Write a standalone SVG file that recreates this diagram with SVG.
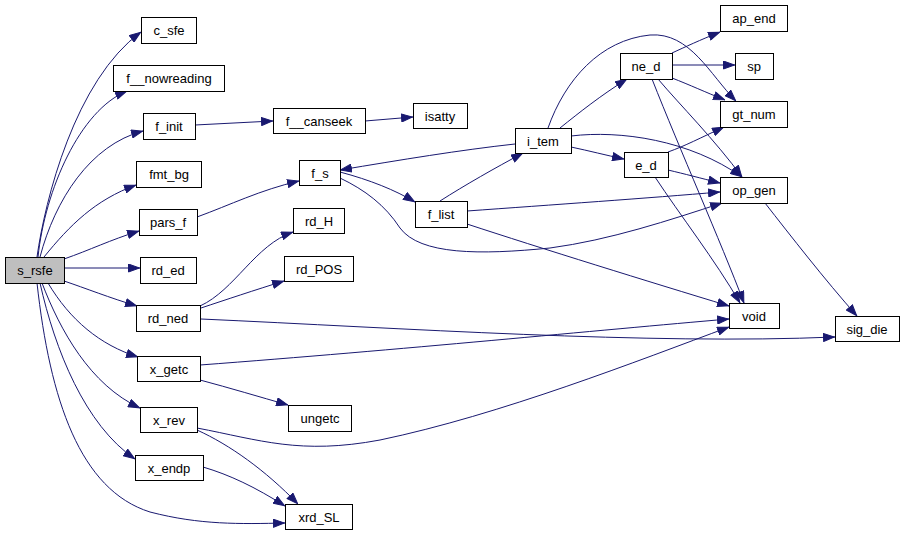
<svg xmlns="http://www.w3.org/2000/svg" width="903" height="533" viewBox="0 0 903 533">
<defs>
<marker id="a" viewBox="0 0 12 9" refX="12" refY="4.5" markerWidth="12" markerHeight="9" markerUnits="userSpaceOnUse" orient="auto">
<path d="M0.5,0.5 L11.5,4.5 L0.5,8.5 z" fill="#191970" stroke="#191970" stroke-width="1"/>
</marker>
</defs>
<style>
rect{fill:#fff;stroke:#000;stroke-width:1}
.root rect{fill:#bfbfbf}
text{font-family:"Liberation Sans",Arial,sans-serif;font-size:13px;text-anchor:middle;fill:#000}
#edges path{fill:none;stroke:#191970;stroke-width:1;marker-end:url(#a)}
</style>
<rect x="0" y="0" width="903" height="533" style="fill:#fff;stroke:none"/>
<g id="edges">
<path d="M37,257 C45,200 75,80 141,32"/>
<path d="M38,257 C45,190 80,110 127,91"/>
<path d="M40,257 C55,200 90,145 143,131"/>
<path d="M44,257 C70,225 95,200 136,185"/>
<path d="M64,259 C90,250 110,240 139,231"/>
<path d="M64,268 L140,268"/>
<path d="M64,281 C85,288 110,298 137,306"/>
<path d="M48,283 C70,320 100,345 138,357"/>
<path d="M42,283 C60,330 90,385 140,408"/>
<path d="M40,283 C55,350 85,425 135,459"/>
<path d="M37,283 C50,400 80,490 150,512 C200,525 240,524 285,523"/>
<path d="M195,125 L273,121"/>
<path d="M365,121 L413,117"/>
<path d="M197,217 C230,205 260,190 299,181"/>
<path d="M200,306 C235,290 255,245 293,232"/>
<path d="M201,308 C225,300 255,290 284,281"/>
<path d="M201,319 C400,328 650,345 835,337"/>
<path d="M200,365 C400,350 600,330 729,319"/>
<path d="M200,380 C230,388 260,397 288,405"/>
<path d="M197,428 C260,440 300,455 380,440 C500,415 640,360 729,327"/>
<path d="M197,430 C230,445 265,470 298,504"/>
<path d="M203,467 C230,475 255,487 285,506"/>
<path d="M340,172 C370,180 395,190 415,202"/>
<path d="M340,178 C365,190 385,205 400,228 C420,255 480,255 550,248 C610,240 670,220 722,203"/>
<path d="M515,144 C460,150 400,160 340,170"/>
<path d="M440,201 C465,185 495,168 523,153"/>
<path d="M467,211 C550,205 650,198 720,192"/>
<path d="M467,224 C540,248 650,282 729,306"/>
<path d="M560,128 C580,112 600,96 627,79"/>
<path d="M571,147 C590,151 605,155 624,159"/>
<path d="M548,128 C565,80 600,40 650,35 C690,32 710,75 736,101"/>
<path d="M571,136 C620,130 690,140 742,177"/>
<path d="M672,53 C685,47 700,40 720,32"/>
<path d="M672,65 L735,65"/>
<path d="M672,78 C690,85 705,92 725,100"/>
<path d="M658,79 C680,105 715,140 742,177"/>
<path d="M652,79 C680,150 720,240 744,303"/>
<path d="M668,152 C685,146 700,138 724,127"/>
<path d="M668,170 C685,174 700,178 720,183"/>
<path d="M655,177 C680,215 715,260 740,303"/>
<path d="M765,203 C790,235 825,280 857,316"/>
</g>
<g id="s_rsfe" class="root"><rect x="5.5" y="257.5" width="59" height="26"/><text x="35" y="275">s_rsfe</text></g>
<g id="c_sfe"><rect x="141.5" y="17.5" width="55" height="26"/><text x="169" y="35">c_sfe</text></g>
<g id="f__nowreading"><rect x="113.5" y="65.5" width="111" height="26"/><text x="169" y="83">f__nowreading</text></g>
<g id="f_init"><rect x="143.5" y="113.5" width="52" height="26"/><text x="169" y="131">f_init</text></g>
<g id="fmt_bg"><rect x="136.5" y="161.5" width="65" height="26"/><text x="169" y="179">fmt_bg</text></g>
<g id="pars_f"><rect x="139.5" y="209.5" width="58" height="26"/><text x="168" y="227">pars_f</text></g>
<g id="rd_ed"><rect x="140.5" y="257.5" width="56" height="26"/><text x="168" y="275">rd_ed</text></g>
<g id="rd_ned"><rect x="136.5" y="305.5" width="64" height="26"/><text x="168" y="323">rd_ned</text></g>
<g id="x_getc"><rect x="137.5" y="356.5" width="63" height="25"/><text x="169" y="374">x_getc</text></g>
<g id="x_rev"><rect x="140.5" y="407.5" width="57" height="25"/><text x="169" y="425">x_rev</text></g>
<g id="x_endp"><rect x="135.5" y="455.5" width="68" height="25"/><text x="169" y="473">x_endp</text></g>
<g id="f__canseek"><rect x="273.5" y="108.5" width="92" height="25"/><text x="319" y="126">f__canseek</text></g>
<g id="isatty"><rect x="413.5" y="103.5" width="54" height="25"/><text x="440" y="121">isatty</text></g>
<g id="f_s"><rect x="299.5" y="160.5" width="41" height="25"/><text x="320" y="178">f_s</text></g>
<g id="rd_H"><rect x="293.5" y="208.5" width="51" height="25"/><text x="319" y="226">rd_H</text></g>
<g id="rd_POS"><rect x="284.5" y="256.5" width="69" height="25"/><text x="319" y="274">rd_POS</text></g>
<g id="ungetc"><rect x="288.5" y="405.5" width="63" height="26"/><text x="320" y="423">ungetc</text></g>
<g id="xrd_SL"><rect x="285.5" y="504.5" width="67" height="25"/><text x="319" y="522">xrd_SL</text></g>
<g id="f_list"><rect x="415.5" y="201.5" width="52" height="26"/><text x="441" y="219">f_list</text></g>
<g id="i_tem"><rect x="515.5" y="128.5" width="56" height="25"/><text x="543" y="146">i_tem</text></g>
<g id="ne_d"><rect x="620.5" y="53.5" width="52" height="26"/><text x="646" y="71">ne_d</text></g>
<g id="e_d"><rect x="624.5" y="152.5" width="44" height="25"/><text x="646" y="170">e_d</text></g>
<g id="ap_end"><rect x="720.5" y="5.5" width="67" height="26"/><text x="754" y="23">ap_end</text></g>
<g id="sp"><rect x="735.5" y="53.5" width="38" height="26"/><text x="754" y="71">sp</text></g>
<g id="gt_num"><rect x="720.5" y="101.5" width="67" height="26"/><text x="754" y="119">gt_num</text></g>
<g id="op_gen"><rect x="720.5" y="177.5" width="67" height="26"/><text x="754" y="195">op_gen</text></g>
<g id="void"><rect x="729.5" y="303.5" width="50" height="25"/><text x="754" y="321">void</text></g>
<g id="sig_die"><rect x="835.5" y="316.5" width="64" height="25"/><text x="867" y="334">sig_die</text></g>
</svg>
